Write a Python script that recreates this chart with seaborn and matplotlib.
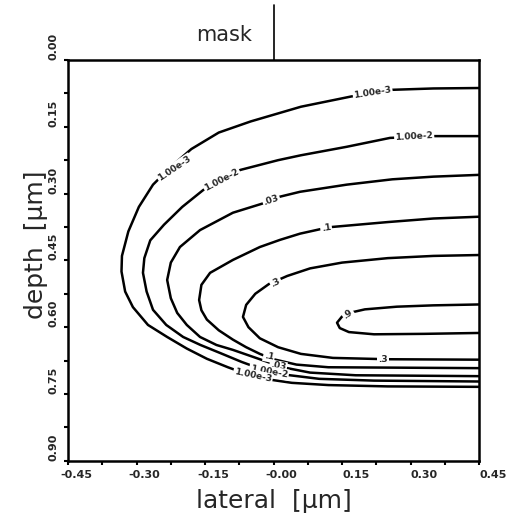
import numpy as np
import pandas as pd
import matplotlib
matplotlib.use("Agg")
import matplotlib.pyplot as plt
import matplotlib.transforms as mtransforms
from matplotlib.ticker import MultipleLocator
import seaborn as sns

# contour lines (lateral, depth) in um
c1e3_x = [0.45, 0.35, 0.26, 0.17, 0.06, 0.01, -0.05, -0.12, -0.18, -0.225, -0.264, -0.295, -0.318,
          -0.332, -0.333, -0.325, -0.308, -0.275, -0.233, -0.19, -0.146, -0.10, -0.06, -0.02, 0.04,
          0.12, 0.25, 0.45]
c1e3_y = [0.063, 0.064, 0.067, 0.082, 0.105, 0.12, 0.138, 0.163, 0.200, 0.240, 0.280, 0.330, 0.385,
          0.440, 0.475, 0.52, 0.555, 0.595, 0.622, 0.648, 0.671, 0.690, 0.705, 0.716, 0.725,
          0.730, 0.733, 0.734]

c1e2_x = [0.45, 0.35, 0.255, 0.16, 0.06, 0.01, -0.073, -0.154, -0.20, -0.24, -0.27, -0.283, -0.286,
          -0.278, -0.264, -0.235, -0.198, -0.16, -0.117, -0.07, -0.03, 0.02, 0.10, 0.22, 0.45]
c1e2_y = [0.171, 0.171, 0.175, 0.195, 0.214, 0.225, 0.247, 0.292, 0.33, 0.37, 0.405, 0.445, 0.478,
          0.52, 0.561, 0.595, 0.622, 0.640, 0.658, 0.678, 0.693, 0.706, 0.716, 0.72, 0.722]

c03_x = [0.45, 0.35, 0.26, 0.16, 0.058, 0.014, -0.023, -0.089, -0.161, -0.205, -0.225, -0.233, -0.225,
         -0.211, -0.19, -0.161, -0.125, -0.089, -0.03, 0.02, 0.08, 0.18, 0.45]
c03_y = [0.258, 0.262, 0.268, 0.28, 0.296, 0.307, 0.322, 0.343, 0.382, 0.42, 0.455, 0.494, 0.535,
         0.568, 0.595, 0.622, 0.640, 0.651, 0.672, 0.69, 0.702, 0.708, 0.71]

c1_x = [0.45, 0.35, 0.25, 0.128, 0.102, 0.058, 0.014, -0.03, -0.089, -0.139, -0.158, -0.163, -0.158,
        -0.146, -0.12, -0.089, -0.06, -0.03, 0.0, 0.05, 0.12, 0.45]
c1_y = [0.352, 0.356, 0.364, 0.375, 0.38, 0.39, 0.404, 0.42, 0.449, 0.478, 0.505, 0.539, 0.562,
        0.583, 0.607, 0.628, 0.645, 0.660, 0.672, 0.684, 0.69, 0.692]

c3_x = [0.45, 0.35, 0.25, 0.15, 0.08, 0.03, -0.01, -0.04, -0.06, -0.067, -0.055, -0.03, 0.01, 0.06,
        0.13, 0.25, 0.45]
c3_y = [0.438, 0.44, 0.445, 0.455, 0.468, 0.485, 0.503, 0.525, 0.55, 0.577, 0.60, 0.625, 0.645,
        0.66, 0.669, 0.672, 0.673]

c9_x = [0.45, 0.35, 0.27, 0.20, 0.17, 0.15, 0.139, 0.145, 0.165, 0.22, 0.33, 0.45]
c9_y = [0.549, 0.551, 0.554, 0.560, 0.567, 0.576, 0.59, 0.602, 0.611, 0.616, 0.615, 0.613]

levels = ["1.00e-3", "1.00e-2", ".03", ".1", ".3", ".9"]
xs = [c1e3_x, c1e2_x, c03_x, c1_x, c3_x, c9_x]
ys = [c1e3_y, c1e2_y, c03_y, c1_y, c3_y, c9_y]

# inline contour labels
lab_text = ["1.00e-3", "1.00e-3", "1.00e-2", "1.00e-2", ".03", ".1", ".3", ".9", ".3", ".1",
            ".03", "1.00e-2", "1.00e-3"]
lab_x = [-0.217, 0.217, -0.113, 0.308, -0.005, 0.115, 0.005, 0.163, 0.24, -0.01, 0.01, -0.01, -0.045]
lab_y = [0.243, 0.074, 0.27, 0.173, 0.315, 0.377, 0.50, 0.57, 0.672, 0.666, 0.688, 0.700, 0.708]
lab_rot = [34, 9, 28, 3, 18, 8, 26, 35, 0, -12, -10, -10, -12]

x_ticks = [-0.45, -0.30, -0.15, 0.0, 0.15, 0.30, 0.45]
x_ticklabels = ["-0.45", "-0.30", "-0.15", "-0.00", "0.15", "0.30", "0.45"]
y_ticks = [0.0, 0.15, 0.30, 0.45, 0.60, 0.75, 0.90]
y_ticklabels = ["0.00", "0.15", "0.30", "0.45", "0.60", "0.75", "0.90"]

rows = []
for lev, xx, yy in zip(levels, xs, ys):
    for i, (a, b) in enumerate(zip(xx, yy)):
        rows.append({"level": lev, "order": i, "lateral": a, "depth": b})
df = pd.DataFrame(rows)

sns.set_theme(style="white")
plt.rcParams['font.family'] = ['DejaVu Sans']

fig = plt.figure(figsize=(5.08, 5.26), dpi=100)
ax = fig.add_axes([0.134, 0.124, 0.809, 0.762])

sns.lineplot(data=df, x="lateral", y="depth", units="level", estimator=None, sort=False,
             color="black", linewidth=1.8, legend=False, ax=ax)

for t, x, y, r in zip(lab_text, lab_x, lab_y, lab_rot):
    ax.text(x, y, t, rotation=r, ha="center", va="center", fontsize=6.5, fontweight="bold",
            rotation_mode="anchor", zorder=5,
            bbox=dict(boxstyle="square,pad=0.12", fc="white", ec="none"))

ax.set_xlim(-0.45, 0.45)
ax.set_ylim(0.90, 0.0)
ax.set_xticks(x_ticks)
ax.set_xticklabels(x_ticklabels, fontsize=8, fontweight="bold", ha="left")
ax.set_yticks(y_ticks)
ax.set_yticklabels(y_ticklabels, fontsize=8, fontweight="bold", rotation=90, va="bottom")
ax.xaxis.set_minor_locator(MultipleLocator(0.075))
ax.yaxis.set_minor_locator(MultipleLocator(0.075))
ax.tick_params(which="both", direction="out", length=3, width=1.5, color="black",
               bottom=True, left=True, top=False, right=False)
ax.tick_params(axis="x", pad=4)
ax.tick_params(axis="y", pad=4)

# minus signs hang to the left of the tick
shift = mtransforms.ScaledTranslation(-8 / 100, 0, fig.dpi_scale_trans)
for lab in ax.get_xticklabels():
    if lab.get_text().startswith("-"):
        lab.set_transform(lab.get_transform() + shift)

for s in ax.spines.values():
    s.set_linewidth(1.8)
    s.set_color("black")

ax.set_xlabel("lateral  [μm]", fontsize=18, labelpad=6)
ax.set_ylabel("depth  [μm]", fontsize=18)
ax.yaxis.set_label_coords(-0.05, 0.54)

# mask edge marker above the plot
ax.plot([0.0, 0.0], [1.0, 1.137], color="black", linewidth=1.2,
        transform=ax.get_xaxis_transform(), clip_on=False)
ax.text(-0.047, 1.062, "mask", transform=ax.get_xaxis_transform(), ha="right", va="center",
        fontsize=15)

fig.savefig("out.png", dpi=100)
